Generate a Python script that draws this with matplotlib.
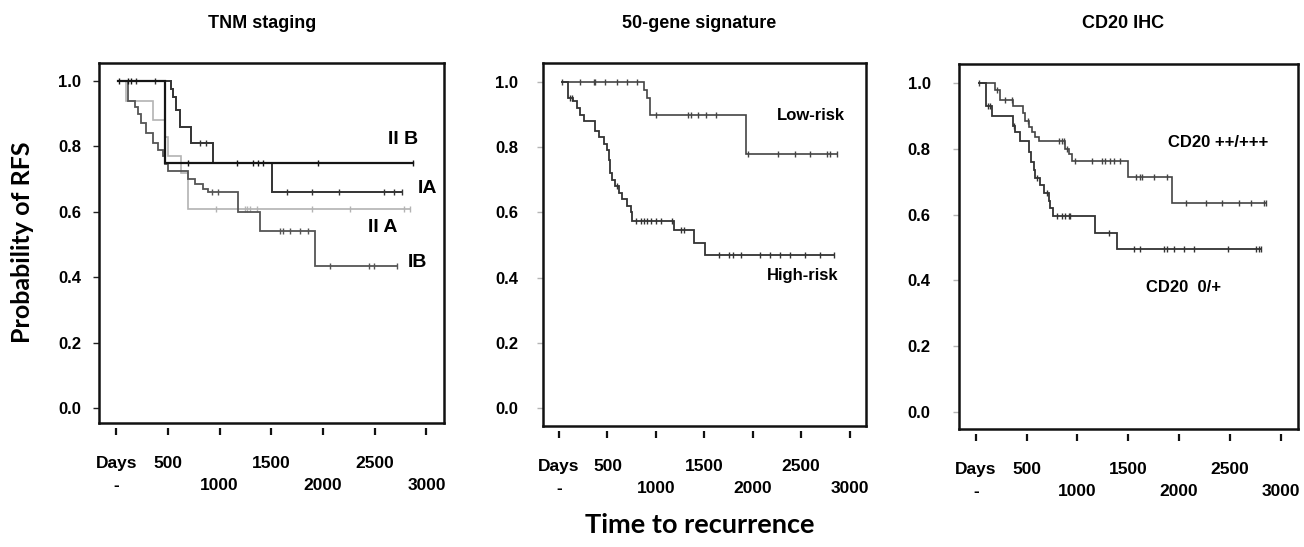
import numpy as np
import matplotlib
matplotlib.use('Agg')
import matplotlib.pyplot as plt

plt.rcParams['font.family'] = ['Liberation Sans', 'DejaVu Sans']

# ---- panel 1: TNM staging ----
iib_t = [15, 469]
iib_s = [1.0, 0.75]
iib_c = [32, 113, 145, 695, 1164, 1326, 1374, 1423, 1956, 2871]

ia_t = [15, 533, 550, 582, 614, 727, 938, 1503]
ia_s = [1.0, 0.975, 0.95, 0.91, 0.86, 0.81, 0.75, 0.66]
ia_c = [194, 372, 808, 873, 1649, 1891, 2150, 2587, 2684, 2764]

iia_t = [15, 97, 356, 469, 501, 630, 695]
iia_s = [1.0, 0.94, 0.88, 0.83, 0.77, 0.72, 0.61]
iia_c = [970, 1245, 1261, 1293, 1358, 1891, 2263, 2780, 2839]

ib_t = [15, 113, 178, 210, 242, 291, 356, 404, 453, 469, 501, 695, 760, 841, 889, 1180, 1390, 1924]
ib_s = [1.0, 0.94, 0.92, 0.90, 0.87, 0.84, 0.81, 0.79, 0.77, 0.745, 0.725, 0.70, 0.685, 0.67, 0.66, 0.60, 0.54, 0.435]
ib_c = [922, 986, 1584, 1617, 1681, 1778, 1859, 2069, 2441, 2490, 2716]

# ---- panel 2: 50-gene signature ----
low_t = [35, 876, 911, 935, 1933]
low_s = [1.0, 0.975, 0.95, 0.90, 0.78]
low_c = [35, 218, 357, 374, 478, 599, 703, 807, 998, 1327, 1361, 1431, 1517, 1621,
         1950, 2262, 2435, 2591, 2764, 2799, 2875]

high_t = [28, 97, 149, 184, 218, 253, 367, 409, 461, 495, 513, 530, 547, 582, 617,
          651, 703, 738, 755, 1188, 1396, 1507]
high_s = [1.0, 0.95, 0.94, 0.92, 0.90, 0.88, 0.85, 0.83, 0.81, 0.79, 0.76, 0.72, 0.70,
          0.68, 0.66, 0.64, 0.62, 0.60, 0.575, 0.545, 0.505, 0.47]
high_c = [114, 132, 600, 790, 842, 876, 911, 946, 998, 1050, 1171, 1257, 1292, 1656,
          1760, 1794, 1881, 2071, 2175, 2279, 2383, 2539, 2695, 2844]

# ---- panel 3: CD20 IHC ----
pos_t = [26, 191, 240, 361, 460, 486, 519, 552, 585, 618, 881, 914, 946, 1499, 1932]
pos_s = [1.0, 0.98, 0.95, 0.93, 0.91, 0.885, 0.865, 0.85, 0.835, 0.825, 0.80, 0.785,
         0.764, 0.715, 0.635]
pos_c = [26, 207, 289, 355, 513, 815, 848, 864, 897, 979, 1144, 1242, 1275, 1324, 1357,
         1423, 1571, 1620, 1637, 1752, 1883, 2064, 2268, 2425, 2590, 2705, 2836, 2859]

neg_t = [26, 99, 158, 361, 388, 437, 526, 546, 569, 585, 634, 667, 716, 733, 756, 1176, 1390]
neg_s = [1.0, 0.93, 0.90, 0.87, 0.85, 0.825, 0.79, 0.76, 0.735, 0.71, 0.69, 0.665, 0.64,
         0.62, 0.595, 0.545, 0.495]
neg_c = [118, 141, 371, 601, 700, 799, 848, 881, 914, 930, 1308, 1554, 1620, 1850, 1883,
         1949, 2047, 2146, 2485, 2754, 2787, 2803]

titles = ['TNM staging', '50-gene signature', 'CD20 IHC']
x_ticks = [0, 500, 1000, 1500, 2000, 2500, 3000]
x_ticklabels = ['Days\n-', '500\n', '\n1000', '1500\n', '\n2000', '2500\n', '\n3000']
y_ticks = [0.0, 0.2, 0.4, 0.6, 0.8, 1.0]


def km(ax, t, s, cens, color, lw):
    t = np.asarray(t, float)
    s = np.asarray(s, float)
    end = max(cens)
    xs = np.append(t, end)
    ys = np.append(s, s[-1])
    ax.step(xs, ys, where='post', color=color, lw=lw, solid_joinstyle='miter')
    idx = np.searchsorted(t, cens, side='right') - 1
    ax.plot(cens, s[idx], ls='none', marker='|', ms=5, mew=1.0, color=color)


fig = plt.figure(figsize=(13.04, 5.47), dpi=100)

# axes boxes in pixel terms: left, top, right, bottom
boxes = [(99, 63, 444, 423), (543, 63, 866, 426), (959, 64, 1298, 429)]
ylims = [(-0.046, 1.055), (-0.055, 1.058), (-0.052, 1.058)]
ytick_col = ['#222222', '#b5b5b5', '#b5b5b5']
ypads = [9, 14, 16.5]
title_x = [262, 699, 1123]

axes = []
for i, (l, t, r, b) in enumerate(boxes):
    ax = fig.add_axes([l / 1304, (547 - b) / 547, (r - l) / 1304, (b - t) / 547])
    ax.set_xlim(-166, 3170)
    ax.set_ylim(*ylims[i])
    for sp in ax.spines.values():
        sp.set_linewidth(1.8)
        sp.set_color('#111111')
    # x ticks sit a little below the box, as in the original
    ax.spines['bottom'].set_position(('outward', 3.5))
    ax.spines['bottom'].set_color('none')
    ax.plot([0, 1], [0, 0], transform=ax.transAxes, color='#111111', lw=1.8,
            clip_on=False, solid_capstyle='projecting')
    ax.set_xticks(x_ticks)
    ax.set_xticklabels(x_ticklabels, fontsize=12.5, fontweight='bold', linespacing=1.6)
    ax.tick_params(axis='x', direction='out', length=5, width=1.6, color='#111111', pad=15)
    ax.set_yticks(y_ticks)
    ax.set_yticklabels(['%.1f' % v for v in y_ticks], fontsize=12, fontweight='bold')
    ax.tick_params(axis='y', direction='out', length=4, width=1.0, color=ytick_col[i],
                   pad=ypads[i])
    fig.text(title_x[i] / 1304, 1 - 24 / 547, titles[i], ha='center', va='center',
             fontsize=13, fontweight='bold')
    axes.append(ax)

ax1, ax2, ax3 = axes
km(ax1, iia_t, iia_s, iia_c, '#b3b3b3', 1.2)
km(ax1, ib_t, ib_s, ib_c, '#555555', 1.3)
km(ax1, ia_t, ia_s, ia_c, '#333333', 1.4)
km(ax1, iib_t, iib_s, iib_c, '#151515', 1.6)
ax1.text(2778, 0.82, 'II B', ha='center', va='center', fontsize=14, fontweight='bold')
ax1.text(3011, 0.67, 'IA', ha='center', va='center', fontsize=14, fontweight='bold')
ax1.text(2575, 0.553, 'II A', ha='center', va='center', fontsize=14, fontweight='bold')
ax1.text(2914, 0.446, 'IB', ha='center', va='center', fontsize=14, fontweight='bold')

km(ax2, low_t, low_s, low_c, '#444444', 1.2)
km(ax2, high_t, high_s, high_c, '#333333', 1.3)
ax2.text(2596, 0.896, 'Low-risk', ha='center', va='center', fontsize=12, fontweight='bold')
ax2.text(2513, 0.407, 'High-risk', ha='center', va='center', fontsize=12, fontweight='bold')

km(ax3, pos_t, pos_s, pos_c, '#444444', 1.2)
km(ax3, neg_t, neg_s, neg_c, '#333333', 1.3)
ax3.text(2380, 0.818, 'CD20 ++/+++', ha='center', va='center', fontsize=12, fontweight='bold')
ax3.text(2045, 0.377, 'CD20  0/+', ha='center', va='center', fontsize=12, fontweight='bold')

fig.text(23 / 1304, 1 - 242 / 547, 'Probability of RFS', rotation=90, ha='center',
         va='center', fontsize=18, fontweight='bold', family=['Lato', 'DejaVu Sans'])
fig.text(700 / 1304, 1 - 525 / 547, 'Time to recurrence', ha='center', va='center',
         fontsize=19.5, fontweight='bold', family=['Lato', 'DejaVu Sans'])

fig.savefig('out.png', dpi=100)
